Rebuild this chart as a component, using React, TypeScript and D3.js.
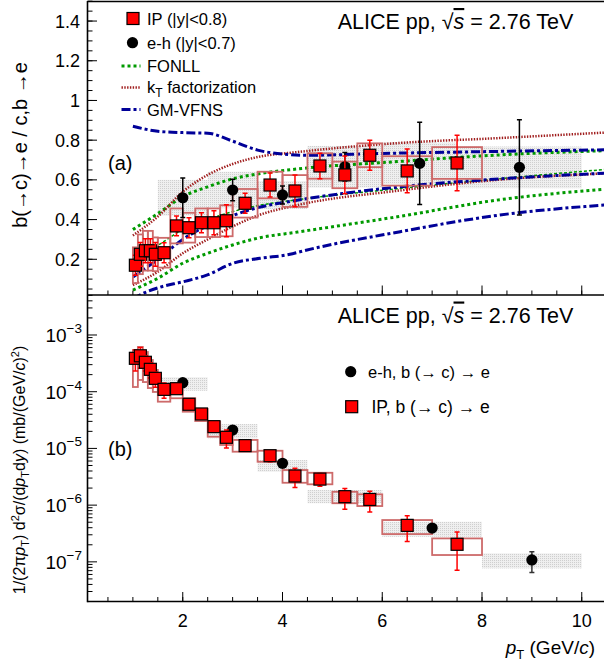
import React from 'react';
import * as d3 from 'd3';

// ---------- IP measurement (red squares) ----------
const ipBinLo = [1.0, 1.1, 1.2, 1.3, 1.4, 1.5, 1.75, 2.0, 2.25, 2.5, 2.75, 3.0, 3.5, 4.0, 4.5, 5.0, 5.5, 6.0, 7.0];
const ipBinHi = [1.1, 1.2, 1.3, 1.4, 1.5, 1.75, 2.0, 2.25, 2.5, 2.75, 3.0, 3.5, 4.0, 4.5, 5.0, 5.5, 6.0, 7.0, 8.0];
const ipPt = [1.05, 1.15, 1.25, 1.35, 1.45, 1.625, 1.875, 2.125, 2.375, 2.625, 2.875, 3.25, 3.75, 4.25, 4.75, 5.25, 5.75, 6.5, 7.5];
// ratio panel (a)
const ipRatio = [0.17, 0.225, 0.243, 0.243, 0.225, 0.233, 0.368, 0.359, 0.384, 0.384, 0.394, 0.482, 0.574, 0.544, 0.67, 0.625, 0.724, 0.645, 0.685];
const ipRatioStat = [0.05, 0.06, 0.06, 0.06, 0.06, 0.05, 0.05, 0.05, 0.05, 0.06, 0.08, 0.05, 0.06, 0.08, 0.064, 0.095, 0.075, 0.11, 0.14];
const ipRatioSys = [0.09, 0.1, 0.1, 0.1, 0.085, 0.075, 0.088, 0.075, 0.072, 0.072, 0.078, 0.072, 0.067, 0.08, 0.064, 0.067, 0.06, 0.074, 0.08];
// spectrum panel (b)
const ipSpec = [3.88e-4, 4.3e-4, 3.3e-4, 2.48e-4, 1.72e-4, 1.1e-4, 1.13e-4, 6.0e-5, 4.05e-5, 2.42e-5, 1.57e-5, 1.12e-5, 7.44e-6, 3.26e-6, 2.88e-6, 1.41e-6, 1.26e-6, 4.4e-7, 2.04e-7];
const ipSpecStatRel = [0.4, 0.4, 0.3, 0.3, 0.3, 0.3, 0.15, 0.15, 0.12, 0.2, 0.35, 0.2, 0.22, 0.37, 0.25, 0.4, 0.4, 0.48, 0.65];
const ipSpecSysLo = [1.21e-4, 1.61e-4, 1.48e-4, 1.16e-4, 9.9e-5, 6.67e-5, 7.66e-5, 4.44e-5, 3.04e-5, 1.61e-5, 1.15e-5, 8.75e-6, 5.82e-6, 2.48e-6, 2.33e-6, 1.08e-6, 9.64e-7, 3.09e-7, 1.32e-7];
const ipSpecSysHi = [5.43e-4, 6.14e-4, 5.01e-4, 3.62e-4, 2.42e-4, 1.35e-4, 1.35e-4, 7.66e-5, 4.96e-5, 2.96e-5, 1.97e-5, 1.41e-5, 9.1e-6, 4.16e-6, 3.72e-6, 1.72e-6, 1.55e-6, 5.46e-7, 2.59e-7];

// ---------- e-h measurement (black circles) ----------
const ehRatioPt = [2.0, 3.0, 4.0, 5.25, 6.75, 8.75];
const ehRatioBinLo = [1.5, 2.5, 3.5, 4.5, 6.0, 7.5];
const ehRatioBinHi = [2.5, 3.5, 4.5, 6.0, 7.5, 10.0];
const ehRatio = [0.51, 0.549, 0.524, 0.666, 0.683, 0.663];
const ehRatioStat = [0.1, 0.054, 0.045, 0.072, 0.207, 0.24];
const ehRatioSys = [0.09, 0.092, 0.07, 0.105, 0.105, 0.105];

const ehSpecPt = [2.0, 3.0, 4.0, 5.25, 7.0, 9.0];
const ehSpecBinLo = [1.5, 2.5, 3.5, 4.5, 6.0, 8.0];
const ehSpecBinHi = [2.5, 3.5, 4.5, 6.0, 8.0, 10.0];
const ehSpec = [1.44e-4, 2.11e-5, 5.46e-6, 1.41e-6, 3.94e-7, 1.08e-7];
const ehSpecStatRel = [0.1, 0.1, 0.1, 0.1, 0.12, 0.4];
const ehSpecSysLo = [1.04e-4, 1.51e-5, 3.88e-6, 1.08e-6, 2.77e-7, 7.67e-8];
const ehSpecSysHi = [1.8e-4, 2.69e-5, 6.24e-6, 1.85e-6, 5.1e-7, 1.41e-7];

// ---------- model curves (panel a) ----------
const modelPt = [1.0, 1.5, 2.0, 2.5, 3.0, 3.5, 4.3, 6.3, 8.3, 10.6];
const fonllUpper = [0.35, 0.43, 0.515, 0.565, 0.605, 0.63, 0.655, 0.692, 0.725, 0.748];
const fonllCentral = [0.2, 0.27, 0.35, 0.4, 0.44, 0.47, 0.5, 0.555, 0.605, 0.655];
const fonllLower = [0.045, 0.104, 0.18, 0.23, 0.272, 0.306, 0.337, 0.414, 0.498, 0.556];
const ktUpper = [0.32, 0.415, 0.54, 0.625, 0.68, 0.715, 0.74, 0.785, 0.81, 0.84];
const ktLower = [0.07, 0.137, 0.23, 0.3, 0.365, 0.42, 0.473, 0.545, 0.6, 0.634];
const gmUpperPt = [1.0, 1.5, 2.0, 2.5, 3.0, 3.5, 4.0, 4.5, 6.0, 8.0, 10.6];
const gmUpper = [0.87, 0.845, 0.838, 0.835, 0.795, 0.75, 0.73, 0.724, 0.733, 0.742, 0.752];
const gmMidPt = [1.0, 1.5, 2.0, 2.5, 3.0, 3.5, 4.0, 4.35, 6.36, 8.36, 10.6];
const gmMid = [0.11, 0.2, 0.3, 0.37, 0.42, 0.46, 0.485, 0.5, 0.565, 0.605, 0.635];
const gmLowerPt = [1.0, 1.14, 1.54, 2.01, 2.48, 3.01, 3.55, 4.15, 4.35, 6.36, 8.36, 10.6];
const gmLower = [0.0, 0.02, 0.059, 0.087, 0.12, 0.18, 0.205, 0.225, 0.238, 0.339, 0.423, 0.476];

// ---------- ticks ----------
const xMajorTicks = [2, 4, 6, 8, 10];
const xMinorTicks = d3.range(0.5, 10.51, 0.5);
const yTopMajor = [0.2, 0.4, 0.6, 0.8, 1.0, 1.2, 1.4];
const yTopLabels = ['0.2', '0.4', '0.6', '0.8', '1', '1.2', '1.4'];
const yTopMinor = d3.range(0.05, 1.501, 0.05);
const yBotExp = [-7, -6, -5, -4, -3];

const FONT = '"Liberation Sans", Arial, Helvetica, sans-serif';
const W = 604, H = 663;
const L = 87.5, TOP = 1.5, MID = 295, BOT = 601.5;

const x = d3.scaleLinear().domain([0.09, 10.6]).range([L, L + 10.51 * 49.875]);
const yTop = d3.scaleLinear().domain([0.02, 1.5]).range([MID, 1.2]);
const yBot = d3.scaleLog().domain([2e-8, 5.07e-3]).range([BOT, MID]);

const C_FONLL = '#009a00';
const C_KT = '#a01e1e';
const C_GM = '#000098';
const C_BOX = '#cd6a6a';

const lineGen = d3.line<[number, number]>().x(d => x(d[0])).y(d => yTop(d[1])).curve(d3.curveMonotoneX);
const zip = (a: number[], b: number[]) => a.map((v, i) => [v, b[i]] as [number, number]);

const models = [
  { d: zip(modelPt, fonllUpper), c: C_FONLL, w: 3, dash: '3 3' },
  { d: zip(modelPt, fonllLower), c: C_FONLL, w: 3, dash: '3 3' },
  { d: zip(modelPt, fonllCentral), c: C_FONLL, w: 1.5, dash: '3 2' },
  { d: zip(modelPt, ktUpper), c: C_KT, w: 2.5, dash: '1.4 1.4' },
  { d: zip(modelPt, ktLower), c: C_KT, w: 2.5, dash: '1.4 1.4' },
  { d: zip(gmUpperPt, gmUpper), c: C_GM, w: 3, dash: '9 3 3 3' },
  { d: zip(gmMidPt, gmMid), c: C_GM, w: 3, dash: '9 3 3 3' },
  { d: zip(gmLowerPt, gmLower), c: C_GM, w: 3, dash: '9 3 3 3' },
];

function ErrBar({ cx, y1, y2, color }: { cx: number; y1: number; y2: number; color: string }) {
  return (
    <g stroke={color} strokeWidth={1.5}>
      <line x1={cx} x2={cx} y1={y1} y2={y2} />
      <line x1={cx - 2.5} x2={cx + 2.5} y1={y1} y2={y1} />
      <line x1={cx - 2.5} x2={cx + 2.5} y1={y2} y2={y2} />
    </g>
  );
}

function Square({ cx, cy }: { cx: number; cy: number }) {
  return <rect x={cx - 6} y={cy - 6} width={12} height={12} fill="#ff0000" stroke="#000" strokeWidth={1.2} />;
}

function Dot({ cx, cy }: { cx: number; cy: number }) {
  return <circle cx={cx} cy={cy} r={5.6} fill="#000" />;
}

function Title({ y }: { y: number }) {
  return (
    <text x={455.5} y={y} fontSize={21.5} textAnchor="middle" fontFamily={FONT}>
      ALICE pp, √<tspan fontStyle="italic" textDecoration="overline">s</tspan> = 2.76 TeV
    </text>
  );
}

export default function App() {
  return (
    <svg width={W} height={H} style={{ position: 'absolute', left: 0, top: 0, background: '#fff' }} fontFamily={FONT}>
      <defs>
        <clipPath id="clipTop"><rect x={L} y={TOP} width={W - L} height={MID - TOP} /></clipPath>
        <clipPath id="clipBot"><rect x={L} y={MID} width={W - L} height={BOT - MID} /></clipPath>
        <pattern id="stipple" width={2} height={2} patternUnits="userSpaceOnUse">
          <rect width={2} height={2} fill="#efefef" />
          <rect width={1} height={1} fill="#cfcfcf" />
        </pattern>
      </defs>

      {/* ===== Panel (a) ===== */}
      <g clipPath="url(#clipTop)">
        {ehRatio.map((v, i) => (
          <rect key={'gb' + i} x={x(ehRatioBinLo[i])} width={x(ehRatioBinHi[i]) - x(ehRatioBinLo[i])}
            y={yTop(v + ehRatioSys[i])} height={yTop(v - ehRatioSys[i]) - yTop(v + ehRatioSys[i])} fill="url(#stipple)" />
        ))}
        {models.map((m, i) => (
          <path key={'m' + i} d={lineGen(m.d) || ''} fill="none" stroke={m.c} strokeWidth={m.w} strokeDasharray={m.dash} />
        ))}
        {ipRatio.map((v, i) => (
          <rect key={'rb' + i} x={x(ipBinLo[i])} width={x(ipBinHi[i]) - x(ipBinLo[i])}
            y={yTop(v + ipRatioSys[i])} height={yTop(v - ipRatioSys[i]) - yTop(v + ipRatioSys[i])}
            fill="none" stroke={C_BOX} strokeWidth={1.8} />
        ))}
        {ehRatio.map((v, i) => (
          <g key={'eh' + i}>
            <ErrBar cx={x(ehRatioPt[i])} y1={yTop(v + ehRatioStat[i])} y2={yTop(v - ehRatioStat[i])} color="#000" />
            <Dot cx={x(ehRatioPt[i])} cy={yTop(v)} />
          </g>
        ))}
        {ipRatio.map((v, i) => (
          <g key={'ip' + i}>
            <ErrBar cx={x(ipPt[i])} y1={yTop(v + ipRatioStat[i])} y2={yTop(v - ipRatioStat[i])} color="#ff0000" />
            <Square cx={x(ipPt[i])} cy={yTop(v)} />
          </g>
        ))}
      </g>

      {/* legend (a) */}
      <g fontSize={16.5}>
        <Square cx={133} cy={18.5} />
        <text x={147} y={24.5}>IP (|y|&lt;0.8)</text>
        <Dot cx={132.5} cy={42.7} />
        <text x={147} y={48.7}>e-h (|y|&lt;0.7)</text>
        <line x1={121.5} x2={140.5} y1={66} y2={66} stroke={C_FONLL} strokeWidth={3} strokeDasharray="3 3" />
        <text x={147} y={72}>FONLL</text>
        <line x1={121.5} x2={140.5} y1={87.5} y2={87.5} stroke={C_KT} strokeWidth={2.5} strokeDasharray="1.4 1.4" />
        <text x={147} y={93}>k<tspan dy={4} fontSize={12}>T</tspan><tspan dy={-4}> factorization</tspan></text>
        <line x1={121.5} x2={140.5} y1={109.5} y2={109.5} stroke={C_GM} strokeWidth={3} strokeDasharray="9 3 3 3" />
        <text x={147} y={115.5}>GM-VFNS</text>
      </g>
      <Title y={29} />
      <text x={108} y={170} fontSize={20}>(a)</text>

      {/* axes (a) */}
      <g stroke="#000" strokeWidth={1}>
        {yTopMinor.map((t, i) => (
          <line key={'ym' + i} x1={L} x2={L + 5} y1={yTop(t)} y2={yTop(t)} />
        ))}
        {yTopMajor.map((t, i) => (
          <line key={'yM' + i} x1={L} x2={L + 9.5} y1={yTop(t)} y2={yTop(t)} />
        ))}
        {xMinorTicks.map((t, i) => (
          <line key={'xm' + i} x1={x(t)} x2={x(t)} y1={MID} y2={MID - 4.5} />
        ))}
        {xMajorTicks.map((t, i) => (
          <line key={'xM' + i} x1={x(t)} x2={x(t)} y1={MID} y2={MID - 9.5} />
        ))}
      </g>
      <g fontSize={18} textAnchor="end">
        {yTopMajor.map((t, i) => (
          <text key={'yl' + i} x={80} y={yTop(t) + 6.5}>{yTopLabels[i]}</text>
        ))}
      </g>
      <text transform="translate(27,145) rotate(-90)" textAnchor="middle" fontSize={20}>b(→c)→e / c,b →e</text>

      {/* ===== Panel (b) ===== */}
      <g clipPath="url(#clipBot)">
        {ehSpec.map((v, i) => (
          <rect key={'gbb' + i} x={x(ehSpecBinLo[i])} width={x(ehSpecBinHi[i]) - x(ehSpecBinLo[i])}
            y={yBot(ehSpecSysHi[i])} height={yBot(ehSpecSysLo[i]) - yBot(ehSpecSysHi[i])} fill="url(#stipple)" />
        ))}
        {ipSpec.map((v, i) => (
          <rect key={'rbb' + i} x={x(ipBinLo[i])} width={x(ipBinHi[i]) - x(ipBinLo[i])}
            y={yBot(ipSpecSysHi[i])} height={yBot(ipSpecSysLo[i]) - yBot(ipSpecSysHi[i])}
            fill="none" stroke={C_BOX} strokeWidth={1.8} />
        ))}
        {ehSpec.map((v, i) => (
          <g key={'ehb' + i}>
            <ErrBar cx={x(ehSpecPt[i])} y1={yBot(v * (1 + ehSpecStatRel[i]))} y2={yBot(v * (1 - ehSpecStatRel[i]))} color="#333" />
            <Dot cx={x(ehSpecPt[i])} cy={yBot(v)} />
          </g>
        ))}
        {ipSpec.map((v, i) => (
          <g key={'ipb' + i}>
            <ErrBar cx={x(ipPt[i])} y1={yBot(v * (1 + ipSpecStatRel[i]))} y2={yBot(v * (1 - ipSpecStatRel[i]))} color="#ff0000" />
            <Square cx={x(ipPt[i])} cy={yBot(v)} />
          </g>
        ))}
      </g>

      {/* legend (b) */}
      <Dot cx={350.7} cy={371.7} />
      <text x={368} y={377.5} fontSize={16.5}>e-h, b (→ c) → e</text>
      <Square cx={351.7} cy={406.7} />
      <text x={371.5} y={413} fontSize={17.5}>IP, b (→ c) → e</text>
      <Title y={322.5} />
      <text x={108} y={456} fontSize={20}>(b)</text>

      {/* axes (b) */}
      <g stroke="#000" strokeWidth={1}>
        {yBotExp.concat([-8, -2]).flatMap(e => d3.range(2, 10).map(k => k * Math.pow(10, e)))
          .filter(v => v >= 2e-8 && v <= 5.07e-3)
          .map((v, i) => (
            <line key={'ybm' + i} x1={L} x2={L + 5} y1={yBot(v)} y2={yBot(v)} />
          ))}
        {yBotExp.map((e, i) => (
          <line key={'ybM' + i} x1={L} x2={L + 9.5} y1={yBot(Math.pow(10, e))} y2={yBot(Math.pow(10, e))} />
        ))}
        {xMinorTicks.map((t, i) => (
          <line key={'xbm' + i} x1={x(t)} x2={x(t)} y1={BOT} y2={BOT - 4.5} />
        ))}
        {xMajorTicks.map((t, i) => (
          <line key={'xbM' + i} x1={x(t)} x2={x(t)} y1={BOT} y2={BOT - 9.5} />
        ))}
      </g>
      <g fontSize={19} textAnchor="end">
        {yBotExp.map((e, i) => (
          <text key={'ybl' + i} x={82} y={yBot(Math.pow(10, e)) + 7}>
            10<tspan dy={-9} fontSize={13.5}>{'−' + Math.abs(e)}</tspan>
          </text>
        ))}
      </g>
      <g fontSize={18} textAnchor="middle">
        {xMajorTicks.map((t, i) => (
          <text key={'xl' + i} x={x(t)} y={626.5}>{t}</text>
        ))}
      </g>
      <text x={595} y={654} textAnchor="end" fontSize={19}>
        <tspan fontStyle="italic">p</tspan><tspan dy={5} fontSize={13}>T</tspan><tspan dy={-5}> (GeV/</tspan><tspan fontStyle="italic">c</tspan>)
      </text>
      <text transform="translate(25,470) rotate(-90)" textAnchor="middle" fontSize={16}>
        1/(2π<tspan fontStyle="italic">p</tspan><tspan dy={4} fontSize={11}>T</tspan><tspan dy={-4}>) d</tspan><tspan dy={-6} fontSize={11}>2</tspan><tspan dy={6}>σ/(d</tspan><tspan fontStyle="italic">p</tspan><tspan dy={4} fontSize={11}>T</tspan><tspan dy={-4}>d</tspan><tspan fontStyle="italic">y</tspan>) (mb/(GeV/<tspan fontStyle="italic">c</tspan>)<tspan dy={-6} fontSize={11}>2</tspan><tspan dy={6}>)</tspan>
      </text>

      {/* frame */}
      <g stroke="#000" strokeWidth={1.6} fill="none">
        <line x1={L} x2={L} y1={TOP - 0.5} y2={BOT + 0.8} />
        <line x1={L} x2={W} y1={TOP} y2={TOP} />
        <line x1={L} x2={W} y1={MID} y2={MID} />
        <line x1={L} x2={W} y1={BOT} y2={BOT} />
      </g>
    </svg>
  );
}
